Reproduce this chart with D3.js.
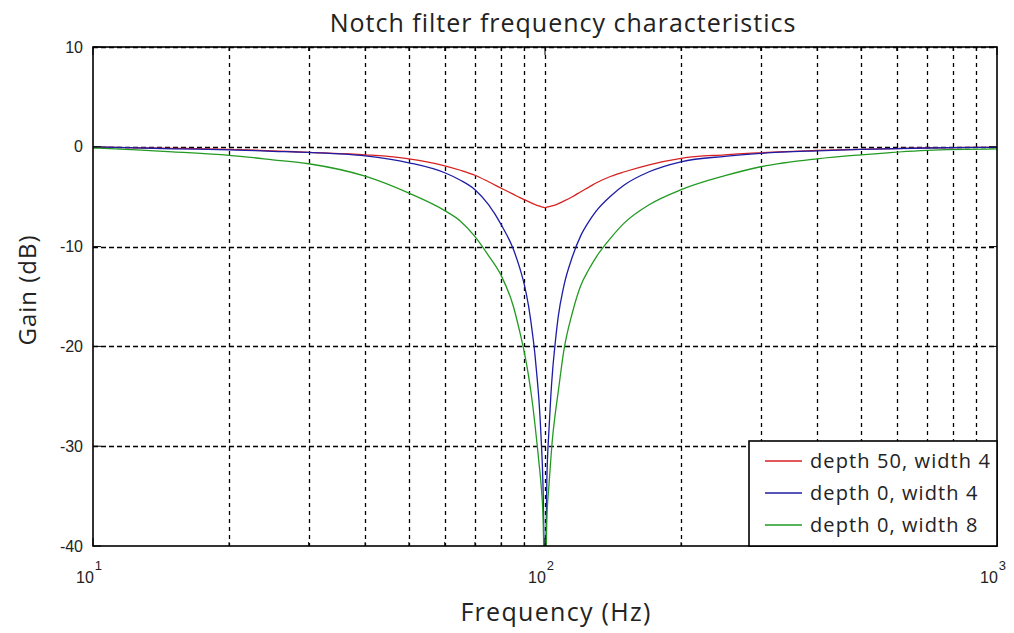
<!DOCTYPE html>
<html lang="en">
<head>
<meta charset="UTF-8">
<title>Notch filter</title>
<script src="https://d3js.org/d3.v7.min.js"></script>
<style>
  body { margin: 0; background: #fff; }
  .tick-label { font-family: "Liberation Sans", Arial, sans-serif; font-size: 16px; fill: #222; }
  .title, .axis-label, .legend-text { font-family: "Open Sans", sans-serif; fill: #222; }
</style>
</head>
<body>
<svg id="chart" width="1014" height="633"></svg>
<script>
// values
var freqs = [10, 12.5, 15, 20, 25, 30, 40, 50, 60, 65, 70, 75, 80, 85, 88, 90, 92, 94, 95, 96, 97, 98, 99, 100,
             101, 102, 103, 104, 105, 107, 110, 115, 120, 125, 130, 140, 150, 170, 200, 250, 300, 400, 500, 700, 1000];
var gainDepth50w4 = [0, -0.1, -0.15, -0.25, -0.4, -0.56, -0.8, -1.2, -1.9, -2.35, -2.85, -3.5, -4.15, -4.75, -5.1, -5.3, -5.5, -5.7, -5.78, -5.86, -5.93, -6.0, -6.05, -6.1,
             -6.05, -6.0, -5.95, -5.9, -5.85, -5.7, -5.45, -5.0, -4.5, -4.05, -3.6, -2.95, -2.5, -1.8, -1.15, -0.8, -0.6, -0.35, -0.25, -0.1, -0.05];
var gainDepth0w4 = [0, -0.1, -0.2, -0.3, -0.45, -0.56, -0.9, -1.6, -2.6, -3.35, -4.3, -5.8, -7.8, -10.2, -12.2, -13.8, -16, -19, -20.8, -23, -25.5, -29, -34, -45,
             -33, -28.5, -25, -22.3, -20.3, -17, -14, -11, -8.9, -7.5, -6.4, -4.9, -3.8, -2.5, -1.5, -0.95, -0.66, -0.4, -0.25, -0.12, -0.05];
var gainDepth0w8 = [-0.1, -0.3, -0.5, -0.85, -1.3, -1.7, -2.95, -4.65, -6.4, -7.45, -9.0, -10.9, -12.9, -15.9, -18.6, -20.6, -23, -26, -27.8, -29.7, -31.7, -33.8, -37, -45,
             -37, -34, -31.3, -29, -27.3, -24.5, -20.5, -16.6, -13.9, -12.3, -11.0, -9.1, -7.6, -5.8, -4.3, -2.9, -2.0, -1.2, -0.8, -0.35, -0.2];
var seriesNames = ["depth 50, width 4", "depth 0, width 4", "depth 0, width 8"];
var seriesColors = ["#d82020", "#1c1ca6", "#229a22"];
var yTicks = [-40, -30, -20, -10, 0, 10];
var xMajor = [10, 100, 1000];
var xMinor = [20, 30, 40, 50, 60, 70, 80, 90, 200, 300, 400, 500, 600, 700, 800, 900];

var margin = {top: 47, right: 17, bottom: 87, left: 93},
    width = 1014 - margin.left - margin.right,
    height = 633 - margin.top - margin.bottom;

var svg = d3.select("#chart");
var g = svg.append("g").attr("transform", "translate(" + margin.left + "," + margin.top + ")");

var xScale = d3.scaleLog().domain([10, 1000]).range([0, width]);
var yScale = d3.scaleLinear().domain([-40, 10]).range([height, 0]);

g.append("rect").attr("width", width).attr("height", height).attr("fill", "#fff");

// grid (dotted-dash like matlab)
g.selectAll(".vgrid")
    .data(xMinor.concat([100]))
    .enter().append("line")
    .attr("x1", d => Math.round(xScale(d)) + 0.5).attr("x2", d => Math.round(xScale(d)) + 0.5)
    .attr("y1", 0).attr("y2", height)
    .attr("stroke", "#000").attr("stroke-width", 1.3).attr("stroke-dasharray", "4,4");
g.selectAll(".hgrid")
    .data(yTicks.slice(1))
    .enter().append("line")
    .attr("x1", 0).attr("x2", width)
    .attr("y1", d => Math.round(yScale(d)) + 0.5).attr("y2", d => Math.round(yScale(d)) + 0.5)
    .attr("stroke", "#000").attr("stroke-width", 1.3).attr("stroke-dasharray", "5,3");

// lines
g.append("clipPath").attr("id", "clip")
    .append("rect").attr("width", width).attr("height", height);

var series = [gainDepth50w4, gainDepth0w4, gainDepth0w8];
var line = d3.line()
    .curve(d3.curveMonotoneX)
    .x(d => xScale(d[0]))
    .y(d => yScale(d[1]));

series.forEach(function(vals, i) {
    g.append("path")
        .datum(freqs.map((f, j) => [f, vals[j]]))
        .attr("clip-path", "url(#clip)")
        .attr("fill", "none")
        .attr("stroke", seriesColors[i])
        .attr("stroke-width", 1.3)
        .attr("d", line);
});

// box and inward ticks
g.append("rect").attr("width", width).attr("height", height)
    .attr("fill", "none").attr("stroke", "#000").attr("stroke-width", 1.6);

xMinor.forEach(function(f) {
    g.append("line").attr("x1", xScale(f)).attr("x2", xScale(f)).attr("y1", height).attr("y2", height - 4).attr("stroke", "#000");
    g.append("line").attr("x1", xScale(f)).attr("x2", xScale(f)).attr("y1", 0).attr("y2", 4).attr("stroke", "#000");
});
xMajor.forEach(function(f) {
    g.append("line").attr("x1", xScale(f)).attr("x2", xScale(f)).attr("y1", height).attr("y2", height - 8).attr("stroke", "#000");
    g.append("line").attr("x1", xScale(f)).attr("x2", xScale(f)).attr("y1", 0).attr("y2", 8).attr("stroke", "#000");
});
yTicks.forEach(function(v) {
    g.append("line").attr("x1", 0).attr("x2", 8).attr("y1", yScale(v)).attr("y2", yScale(v)).attr("stroke", "#000");
    g.append("line").attr("x1", width).attr("x2", width - 8).attr("y1", yScale(v)).attr("y2", yScale(v)).attr("stroke", "#000");
});

// tick labels
g.selectAll(".ylab")
    .data(yTicks)
    .enter().append("text")
    .attr("class", "tick-label")
    .attr("x", -10)
    .attr("y", d => yScale(d))
    .attr("dy", "0.35em")
    .attr("text-anchor", "end")
    .text(d => d);

var xl = g.selectAll(".xlab")
    .data(xMajor)
    .enter().append("text")
    .attr("class", "tick-label")
    .attr("x", d => xScale(d) - 4)
    .attr("y", height + 37)
    .attr("text-anchor", "middle");
xl.append("tspan").text("10");
xl.append("tspan").attr("dx", 1).attr("dy", -13).style("font-size", "13px").text(d => Math.round(Math.log10(d)));

// title and axis labels
svg.append("text").attr("class", "title")
    .attr("x", 563).attr("y", 32)
    .attr("text-anchor", "middle")
    .style("font-size", "25px")
    .style("letter-spacing", "1px")
    .text("Notch filter frequency characteristics");

svg.append("text").attr("class", "axis-label")
    .attr("x", 556).attr("y", 621)
    .attr("text-anchor", "middle")
    .style("font-size", "25px")
    .style("letter-spacing", "1.3px")
    .text("Frequency (Hz)");

svg.append("text").attr("class", "axis-label")
    .attr("transform", "translate(36,290) rotate(-90)")
    .attr("text-anchor", "middle")
    .style("font-size", "24px")
    .style("letter-spacing", "1px")
    .text("Gain (dB)");

// legend
var legend = g.append("g").attr("transform", "translate(" + (width - 248) + "," + (height - 105) + ")");
legend.append("rect").attr("width", 248).attr("height", 105)
    .attr("fill", "#fff").attr("stroke", "#000").attr("stroke-width", 1.6);
seriesNames.forEach(function(name, i) {
    var yy = 20 + i * 32;
    legend.append("line").attr("x1", 16).attr("x2", 53).attr("y1", yy).attr("y2", yy)
        .attr("stroke", seriesColors[i]).attr("stroke-width", 1.3);
    legend.append("text").attr("class", "legend-text")
        .attr("x", 61).attr("y", yy).attr("dy", "0.35em")
        .style("font-size", "20px")
        .style("letter-spacing", "1.1px")
        .text(name);
});
</script>
</body>
</html>
